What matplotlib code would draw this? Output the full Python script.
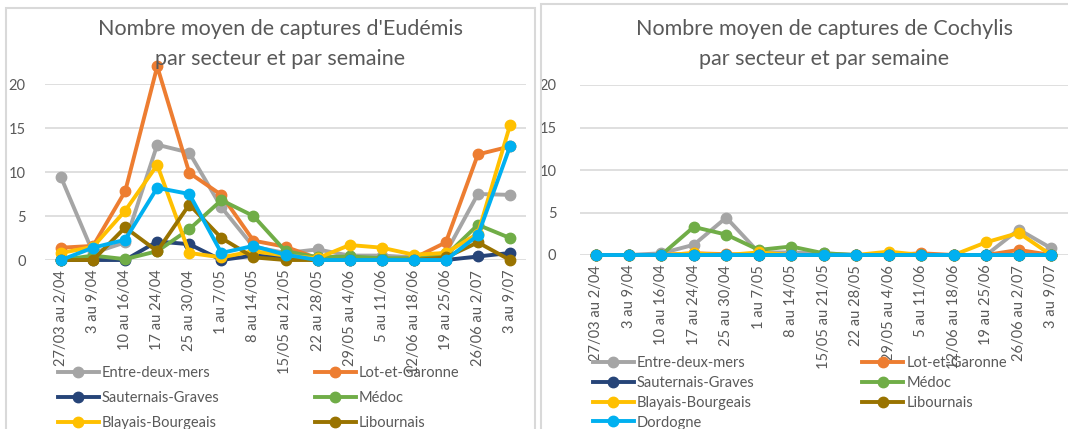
import matplotlib
matplotlib.use('Agg')
import matplotlib.pyplot as plt
from matplotlib.patches import Rectangle

plt.rcParams['font.family'] = ['Lato', 'DejaVu Sans']

# ---------------------------------------------------------------------------
# Data
weeks = ['27/03 au 2/04', '3 au 9/04', '10 au 16/04', '17 au 24/04', '25 au 30/04',
         '1 au 7/05', '8 au 14/05', '15/05 au 21/05', '22 au 28/05', '29/05 au 4/06',
         '5 au 11/06', '12/06 au 18/06', '19 au 25/06', '26/06 au 2/07', '3 au 9/07']
sectors = ['Entre-deux-mers', 'Lot-et-Garonne', 'Sauternais-Graves', 'Médoc',
           'Blayais-Bourgeais', 'Libournais', 'Dordogne']
colors = ['#A5A5A5', '#ED7D31', '#264478', '#70AD47', '#FFC000', '#997300', '#00B0F0']
yticks = [0, 5, 10, 15, 20]

# Eudémis
eud_entre = [9.4, 0.8, 2.0, 13.1, 12.2, 6.0, 1.5, 0.8, 1.2, 0.5, 0.5, 0.3, 0.8, 7.5, 7.4]
eud_lot = [1.4, 1.6, 7.8, 22.0, 9.9, 7.4, 2.2, 1.5, 0.2, 0.2, 0.1, 0.2, 2.0, 12.0, 12.9]
eud_saut = [0, 0, 0, 2.1, 1.8, 0, 0.5, 0.3, 0, 0, 0, 0, 0, 0.4, 0.8]
eud_medoc = [0, 0.5, 0.1, 1.0, 3.5, 6.8, 5.0, 1.0, 0.3, 0.4, 0.2, 0.2, 0.5, 4.0, 2.5]
eud_blay = [0.8, 1.5, 5.6, 10.8, 0.8, 0.3, 1.0, 0.5, 0.2, 1.7, 1.4, 0.6, 0.8, 3.0, 15.3]
eud_libo = [0, 0, 3.7, 1.0, 6.3, 2.5, 0.3, 0, 0, 0, 0, 0, 0.3, 2.0, 0]
eud_dord = [0, 1.4, 2.3, 8.2, 7.5, 0.8, 1.6, 0.6, 0, 0, 0, 0, 0, 2.8, 12.9]

# Cochylis
coc_entre = [0, 0, 0.2, 1.2, 4.4, 0.3, 0.3, 0.2, 0, 0, 0, 0, 0, 3.0, 0.8]
coc_lot = [0, 0, 0, 0.2, 0.1, 0, 0, 0, 0, 0, 0.2, 0, 0, 0.6, 0]
coc_saut = [0, 0, 0, 0, 0, 0, 0, 0, 0, 0, 0, 0, 0, 0, 0]
coc_medoc = [0, 0, 0, 3.3, 2.4, 0.6, 1.0, 0.2, 0, 0, 0, 0, 0, 0, 0]
coc_blay = [0, 0, 0, 0.2, 0, 0.3, 0, 0, 0, 0.4, 0, 0, 1.5, 2.6, 0]
coc_libo = [0, 0, 0, 0, 0, 0, 0, 0, 0, 0, 0, 0, 0, 0, 0]
coc_dord = [0, 0, 0, 0, 0, 0, 0, 0, 0, 0, 0, 0, 0, 0, 0]

eudemis = [eud_entre, eud_lot, eud_saut, eud_medoc, eud_blay, eud_libo, eud_dord]
cochylis = [coc_entre, coc_lot, coc_saut, coc_medoc, coc_blay, coc_libo, coc_dord]

# ---------------------------------------------------------------------------
W, H = 1068, 429
fig = plt.figure(figsize=(W / 100, H / 100), dpi=100)
txt_col = '#595959'
grid_col = '#D9D9D9'


def add_ax(x0, y0, x1, y1):
    # pixel box (top-left origin) -> figure axes
    return fig.add_axes([x0 / W, 1 - y1 / H, (x1 - x0) / W, (y1 - y0) / H])


def px(x, y):
    return x / W, 1 - y / H


# panel borders
fig.patches.append(Rectangle(px(6, 440), 529 / W, 432 / H, transform=fig.transFigure,
                             fill=False, edgecolor=grid_col, linewidth=1.5))
fig.patches.append(Rectangle(px(541, 440), 540 / W, 436 / H, transform=fig.transFigure,
                             fill=False, edgecolor=grid_col, linewidth=1.5))


def draw(ax, series, ypad):
    x = range(len(weeks))
    lines = []
    for vals, c, name in zip(series, colors, sectors):
        ln, = ax.plot(x, vals, color=c, lw=2.8, marker='o', ms=7.5, label=name,
                      clip_on=False, solid_joinstyle='round')
        lines.append(ln)
    ax.set_xlim(-0.5, len(weeks) - 0.5)
    ax.set_ylim(0, 20)
    ax.set_yticks(yticks)
    ax.set_xticks(list(x))
    ax.set_xticklabels(weeks, rotation=90)
    ax.grid(axis='y', color=grid_col, lw=1.2)
    ax.set_axisbelow(True)
    for s in ax.spines.values():
        s.set_visible(False)
    ax.tick_params(length=0, labelsize=10.5, labelcolor=txt_col)
    ax.tick_params(axis='y', pad=ypad)
    ax.tick_params(axis='x', pad=7)
    return lines


ax1 = add_ax(45, 84, 526, 260)
l1 = draw(ax1, eudemis, 14)
ax2 = add_ax(580, 85, 1067.5, 255)
l2 = draw(ax2, cochylis, 17)

# titles
for cx, t1 in [(280, "Nombre moyen de captures d'Eudémis"),
               (824, "Nombre moyen de captures de Cochylis")]:
    fig.text(*px(cx, 29), t1, ha='center', va='center', fontsize=15.5, color=txt_col)
    fig.text(*px(cx, 59), 'par secteur et par semaine', ha='center', va='center',
             fontsize=15.5, color=txt_col)

# legends (Excel fills row-wise)
order = [0, 2, 4, 6, 1, 3, 5]
for lines, x0, ytop, lsp, csp in [(l1, 58, 366, 0.75, 6.55), (l2, 593, 356, 0.4, 7.4)]:
    fig.legend([lines[i] for i in order], [sectors[i] for i in order],
               loc='upper left', bbox_to_anchor=px(x0, ytop), ncol=2,
               frameon=False, fontsize=10.5, labelcolor=txt_col, borderpad=0,
               borderaxespad=0, handlelength=2.8, handletextpad=0.2,
               columnspacing=csp, labelspacing=lsp)

plt.savefig('out.png', dpi=100)
